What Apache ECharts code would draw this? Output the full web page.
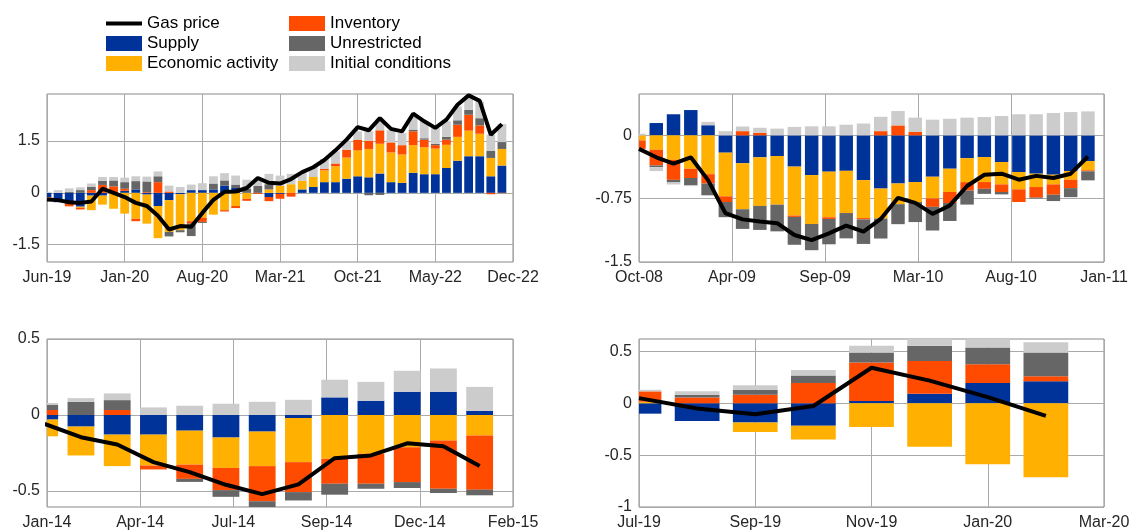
<!DOCTYPE html>
<html>
<head>
<meta charset="utf-8">
<script src="https://cdn.jsdelivr.net/npm/echarts@6/dist/echarts.min.js"></script>
<style>
html, body { margin: 0; padding: 0; background: #fff; }
#chart { width: 1133px; height: 530px; }
</style>
</head>
<body>
<div id="chart"></div>
<script>
// names + colours of the decomposition
var seriesNames = ['Supply', 'Economic activity', 'Inventory', 'Unrestricted', 'Initial conditions'];
var seriesColors = ['#003399', '#FFB000', '#FF4B00', '#666666', '#CCCCCC'];

// panel 1: Jun-19 .. Nov-22, monthly
var xLabels1 = ['Jun-19', 'Jan-20', 'Aug-20', 'Mar-21', 'Oct-21', 'May-22', 'Dec-22'];
var yTicks1 = [-1.5, 0, 1.5];
var supply1 = [-0.13,-0.27,-0.31,-0.40,-0.08,-0.08,0,0.06,0.10,-0.05,-0.38,-0.21,-0.04,0.08,0.08,0.10,0.21,0.14,0,0,-0.12,-0.03,0,0.10,0.17,0.31,0.31,0.41,0.48,0.45,0.56,0.31,0.29,0.58,0.54,0.54,0.72,0.93,1.06,1.06,0.48,0.79];
var econ1 = [0,0,0,-0.03,-0.42,-0.26,-0.46,-0.60,-0.75,-0.84,-0.93,-0.92,-1.04,-0.82,-0.72,-0.63,-0.50,-0.38,-0.17,0,0.10,0.20,0.25,0.25,0.29,0.34,0.46,0.61,0.75,0.82,0.86,0.86,0.82,0.80,0.78,0.74,0.67,0.69,0.74,0.65,0.53,0.48];
var inv1 = [-0.05,0,-0.08,-0.05,0.08,0.23,0.19,0.06,-0.07,0.02,0.31,0.04,0,-0.07,-0.12,0,-0.04,-0.06,-0.06,-0.03,-0.12,-0.14,-0.11,0,0,0.04,0.08,0.23,0.31,0.24,0.39,0.29,0.27,0.40,0.22,0.10,0.15,0.35,0.46,0.24,-0.04,-0.01];
var unres1 = [0,0,0.03,0.08,0.10,0.12,0.17,0.19,0.24,0.31,0.17,-0.13,-0.06,-0.36,-0.03,0.17,0.15,0.10,0.12,0.20,0.15,0,0,0,0.01,0.01,0,0,0,-0.07,-0.06,0,0,0.05,0.04,0.04,0.08,0.13,0.14,0.21,0.21,0.20];
var init1 = [0.03,0.08,0.10,0.08,0.09,0.11,0.10,0.13,0.14,0.14,0.14,0.17,0.17,0.16,0.20,0.21,0.21,0.26,0.26,0.20,0.30,0.30,0.30,0.25,0.28,0.28,0.35,0.24,0.24,0.27,0.26,0.35,0.35,0.37,0.49,0.46,0.45,0.40,0.39,0.48,0.46,0.52];
var gas1 = [-0.19,-0.21,-0.27,-0.29,-0.25,0.12,0,-0.12,-0.29,-0.38,-0.66,-1.06,-0.96,-0.98,-0.58,-0.2,0.03,0.04,0.14,0.43,0.29,0.27,0.4,0.6,0.74,0.95,1.23,1.54,1.9,1.81,2.16,1.85,1.78,2.29,2.07,1.88,2.12,2.55,2.82,2.66,1.68,1.99];

// panel 2: Oct-08 .. Dec-10
var xLabels2 = ['Oct-08', 'Apr-09', 'Sep-09', 'Mar-10', 'Aug-10', 'Jan-11'];
var yTicks2 = [-1.5, -0.75, 0];
var supply2 = [0,0.146,0.25,0.30,0.12,-0.205,-0.33,-0.26,-0.245,-0.37,-0.47,-0.43,-0.42,-0.53,-0.63,-0.57,-0.553,-0.49,-0.395,-0.27,-0.257,-0.316,-0.434,-0.454,-0.466,-0.422,-0.304];
var econ2 = [-0.06,-0.17,-0.29,-0.395,-0.46,-0.517,-0.545,-0.576,-0.576,-0.58,-0.58,-0.54,-0.5,-0.45,-0.355,-0.245,-0.237,-0.257,-0.276,-0.284,-0.296,-0.265,-0.205,-0.158,-0.115,-0.103,-0.11];
var inv2 = [-0.1,-0.186,-0.237,-0.11,-0.11,-0.067,0.05,0.03,0,-0.016,0,-0.02,0,-0.016,0.05,0.118,0.04,-0.1,-0.13,-0.1,-0.08,-0.09,-0.15,-0.126,-0.122,-0.1,-0.012];
var unres2 = [0,-0.02,-0.03,-0.087,-0.14,-0.18,-0.233,-0.284,-0.316,-0.33,-0.31,-0.3,-0.3,-0.29,-0.237,-0.237,-0.237,-0.28,-0.213,-0.166,-0.06,-0.028,0,-0.01,-0.075,-0.107,-0.107];
var init2 = [0.02,-0.047,-0.025,-0.01,0.04,0.05,0.055,0.06,0.08,0.1,0.107,0.107,0.126,0.14,0.17,0.17,0.17,0.186,0.197,0.21,0.217,0.23,0.25,0.25,0.265,0.276,0.284];
var gas2 = [-0.16,-0.26,-0.335,-0.26,-0.53,-0.92,-0.995,-1.02,-1.04,-1.18,-1.24,-1.16,-1.07,-1.14,-0.99,-0.74,-0.8,-0.93,-0.83,-0.6,-0.466,-0.454,-0.525,-0.48,-0.505,-0.454,-0.25];

// panel 3: Jan-14 .. Jan-15
var xLabels3 = ['Jan-14', 'Apr-14', 'Jul-14', 'Sep-14', 'Dec-14', 'Feb-15'];
var yTicks3 = [-0.5, 0, 0.5];
var supply3 = [-0.03,-0.076,-0.129,-0.129,-0.103,-0.148,-0.109,-0.02,0.116,0.094,0.153,0.153,0.028];
var econ3 = [-0.11,-0.19,-0.207,-0.203,-0.223,-0.2,-0.227,-0.29,-0.288,-0.255,-0.212,-0.168,-0.135];
var inv3 = [0.033,0,0.033,-0.026,-0.094,-0.146,-0.231,-0.197,-0.164,-0.197,-0.229,-0.317,-0.356];
var unres3 = [0.033,0.087,0.065,0,-0.02,-0.044,-0.05,-0.055,-0.072,-0.033,-0.039,-0.028,-0.037];
var init3 = [0.013,0.024,0.044,0.05,0.061,0.074,0.087,0.1,0.116,0.124,0.138,0.153,0.157];
var gas3 = [-0.059,-0.146,-0.194,-0.31,-0.376,-0.459,-0.52,-0.456,-0.284,-0.266,-0.186,-0.205,-0.336];

// panel 4: Jul-19 .. Feb-20
var xLabels4 = ['Jul-19', 'Sep-19', 'Nov-19', 'Jan-20', 'Mar-20'];
var yTicks4 = [-1, -0.5, 0, 0.5];
var supply4 = [-0.1,-0.17,-0.186,-0.216,0.023,0.092,0.196,0.212];
var econ4 = [0.015,0,-0.09,-0.134,-0.229,-0.418,-0.588,-0.712];
var inv4 = [0.1,0.056,0.082,0.196,0.37,0.317,0.18,0.049];
var unres4 = [0,0.026,0.049,0.072,0.098,0.147,0.163,0.229];
var init4 = [0.015,0.033,0.042,0.052,0.065,0.082,0.1,0.098];
var gas4 = [0.05,-0.05,-0.105,-0.026,0.343,0.219,0.059,-0.121];

var panels = [
  { rect: [47, 94, 466, 168], xMin: 0, xMax: 42, yMin: -2, yMax: 2.86, barFrac: 0.79,
    xLabels: xLabels1, yTicks: yTicks1, bars: [supply1, econ1, inv1, unres1, init1], gas: gas1 },
  { rect: [639, 94, 465, 168], xMin: 0, xMax: 26.93, yMin: -1.5, yMax: 0.49, barFrac: 0.78,
    xLabels: xLabels2, yTicks: yTicks2, bars: [supply2, econ2, inv2, unres2, init2], gas: gas2 },
  { rect: [47, 339, 466, 168], xMin: 0.063, xMax: 12.92, yMin: -0.605, yMax: 0.5, barFrac: 0.74,
    xLabels: xLabels3, yTicks: yTicks3, bars: [supply3, econ3, inv3, unres3, init3], gas: gas3 },
  { rect: [639, 339, 465, 168], xMin: 0, xMax: 8, yMin: -1, yMax: 0.62, barFrac: 0.77,
    xLabels: xLabels4, yTicks: yTicks4, bars: [supply4, econ4, inv4, unres4, init4], gas: gas4 }
];

var FONT = '"Liberation Sans", Arial, Helvetica, sans-serif';
var TXT = '#262626';

// positive parts stack upwards, negative parts downwards: rows [index, from, to]
function stackRows(bars) {
  var up = bars[0].map(function () { return 0; });
  var down = bars[0].map(function () { return 0; });
  return bars.map(function (arr) {
    return arr.map(function (v, i) {
      var base = v >= 0 ? up[i] : down[i];
      if (v >= 0) up[i] = base + v; else down[i] = base + v;
      return [i, base, base + v];
    });
  });
}

// bars are clipped to the plot box (first bar sits on the left edge)
function barRenderer(frac) {
  return function (params, api) {
    var x = api.value(0);
    var a = api.coord([x, api.value(1)]);
    var b = api.coord([x, api.value(2)]);
    var w = api.size([frac, 0])[0];
    var cs = params.coordSys;
    var shape = echarts.graphic.clipRectByRect(
      { x: a[0] - w / 2, y: Math.min(a[1], b[1]), width: w, height: Math.abs(a[1] - b[1]) },
      { x: cs.x, y: cs.y, width: cs.width, height: cs.height }
    );
    if (!shape) return null;
    return { type: 'rect', shape: shape, style: { fill: api.visual('color') } };
  };
}

var grids = [], xAxes = [], yAxes = [], series = [];

panels.forEach(function (p, k) {
  grids.push({
    left: p.rect[0], top: p.rect[1], width: p.rect[2], height: p.rect[3],
    containLabel: false, outerBoundsMode: 'none',
    show: true, borderColor: '#888', borderWidth: 1, backgroundColor: 'transparent'
  });

  var n = p.xLabels.length;
  var step = (p.xMax - p.xMin) / (n - 1);
  var xTicks = p.xLabels.map(function (l, i) { return i === n - 1 ? p.xMax : p.xMin + i * step; });

  xAxes.push({
    gridIndex: k, type: 'value', min: p.xMin, max: p.xMax,
    axisLine: { show: false },
    axisTick: { show: false, customValues: xTicks },
    axisLabel: {
      customValues: xTicks, showMinLabel: true, showMaxLabel: true, hideOverlap: false,
      color: TXT, fontSize: 16, fontFamily: FONT, margin: 8,
      formatter: function (v) { return p.xLabels[Math.round((v - p.xMin) / step)]; }
    },
    splitLine: { show: true, lineStyle: { color: '#aaa', width: 1 } }
  });

  yAxes.push({
    gridIndex: k, type: 'value', min: p.yMin, max: p.yMax,
    axisLine: { show: false },
    axisTick: { show: false, customValues: p.yTicks },
    axisLabel: { customValues: p.yTicks, color: TXT, fontSize: 16, fontFamily: FONT, margin: 7 },
    splitLine: { show: true, lineStyle: { color: '#aaa', width: 1 } }
  });

  stackRows(p.bars).forEach(function (rows, s) {
    series.push({
      name: seriesNames[s], type: 'custom', xAxisIndex: k, yAxisIndex: k,
      renderItem: barRenderer(p.barFrac),
      encode: { x: 0, y: [1, 2] },
      itemStyle: { color: seriesColors[s] },
      data: rows
    });
  });

  series.push({
    name: 'Gas price', type: 'line', xAxisIndex: k, yAxisIndex: k,
    symbol: 'none', z: 5,
    lineStyle: { color: '#000', width: 4 }, itemStyle: { color: '#000' },
    data: p.gas.map(function (v, i) { return [i, v]; })
  });
});

var legendBase = {
  orient: 'vertical', itemWidth: 36, itemHeight: 15, itemGap: 3, padding: 0,
  selectedMode: false, symbolKeepAspect: true,
  textStyle: { fontSize: 17, lineHeight: 17, color: '#000', fontFamily: FONT }
};

var chart = echarts.init(document.getElementById('chart'));
chart.setOption({
  animation: false,
  backgroundColor: '#fff',
  legend: [
    Object.assign({}, legendBase, { left: 106, top: 15,
      data: [{ name: 'Gas price', icon: 'path://M0,0H36V4H0Z' }, { name: 'Supply', icon: 'rect' }, { name: 'Economic activity', icon: 'rect' }] }),
    Object.assign({}, legendBase, { left: 289, top: 15,
      data: [{ name: 'Inventory', icon: 'rect' }, { name: 'Unrestricted', icon: 'rect' }, { name: 'Initial conditions', icon: 'rect' }] })
  ],
  grid: grids,
  xAxis: xAxes,
  yAxis: yAxes,
  series: series
});
</script>
</body>
</html>
